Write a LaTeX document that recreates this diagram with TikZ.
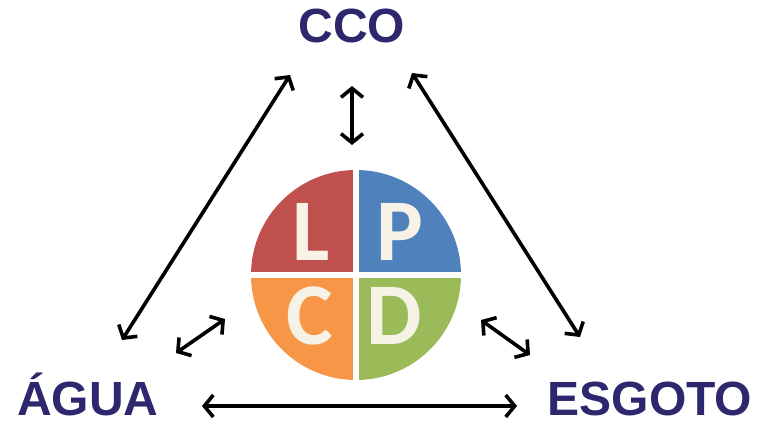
\documentclass[tikz,border=0pt]{standalone}
\usepackage{fontspec}
\setmainfont{Liberation Sans}
\newfontfamily\lpcdfont{Carlito}
\usepackage{tikz}
\usetikzlibrary{arrows.meta,calc}
\definecolor{navy}{RGB}{45,40,110}
\definecolor{qred}{RGB}{192,80,77}
\definecolor{qblue}{RGB}{79,129,189}
\definecolor{qorange}{RGB}{247,150,70}
\definecolor{qgreen}{RGB}{155,187,89}
\definecolor{cream}{RGB}{246,243,230}
\tikzstyle{arrow} = [line width=3.6pt,<->,>={Straight Barb[length=9pt,width=22pt]}]
\tikzstyle{label} = [text=navy,font=\fontsize{48}{48}\selectfont\bfseries,anchor=base,inner sep=0pt,text depth=0pt]
\tikzstyle{letter} = [text=cream,font=\lpcdfont\bfseries\fontsize{88}{88}\selectfont,inner sep=0pt]

\begin{document}
\begin{tikzpicture}[x=1pt,y=-1pt]
	\useasboundingbox (0,0) rectangle (757,424);
	
	% texts
	\node[label] (cco) at (352,42) {CCO};
	\node[label] (agua) at (88,415) {ÁGUA};
	\node[label] (esgoto) at (650,415) {ESGOTO};
	
	% circle with the four quarters
	\coordinate (lpcd) at (356,275);
	\begin{scope}
		\clip (lpcd) circle (105);
		\fill[qred] ($(lpcd)+(-3,-3)$) rectangle ++(-110,-110);
		\fill[qblue] ($(lpcd)+(3,-3)$) rectangle ++(110,-110);
		\fill[qorange] ($(lpcd)+(-3,3)$) rectangle ++(-110,110);
		\fill[qgreen] ($(lpcd)+(3,3)$) rectangle ++(110,110);
	\end{scope}
	\node[letter] (l) at (311,232) {L};
	\node[letter] (p) at (400,232) {P};
	\node[letter] (c) at (310,316) {C};
	\node[letter] (d) at (394,316) {D};
	
	% arrow ends
	\coordinate (ccoL) at (290,75);
	\coordinate (aguaT) at (122,340);
	\coordinate (ccoR) at (412,73);
	\coordinate (esgotoT) at (580,337);
	\coordinate (ccoB) at (352,86);
	\coordinate (lpcdT) at (352,145);
	\coordinate (aguaR) at (176,353);
	\coordinate (lpcdL) at (225,319);
	\coordinate (esgotoL) at (530,355);
	\coordinate (lpcdR) at (481,320);
	\coordinate (aguaB) at (202,406);
	\coordinate (esgotoB) at (517,406);
	
	\draw[arrow] (ccoL) -- (aguaT);
	\draw[arrow] (ccoR) -- (esgotoT);
	\draw[arrow] (ccoB) -- (lpcdT);
	\draw[arrow] (aguaR) -- (lpcdL);
	\draw[arrow] (lpcdR) -- (esgotoL);
	\draw[arrow] (aguaB) -- (esgotoB);
\end{tikzpicture}
\end{document}
